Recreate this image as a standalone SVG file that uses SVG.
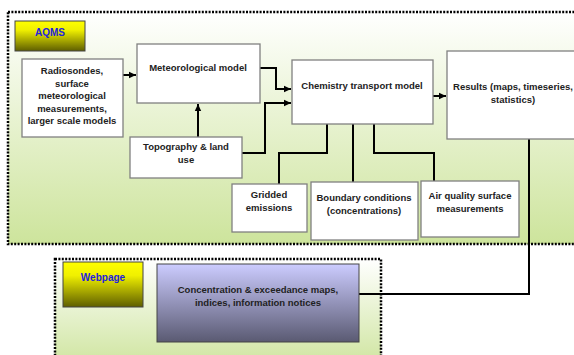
<svg xmlns="http://www.w3.org/2000/svg" width="574" height="355" viewBox="0 0 574 355">
<style>
.cont{stroke:#000;stroke-width:2.5;stroke-dasharray:2 1.4}
.box{fill:#fff;stroke:#808080;stroke-width:1.3}
.t{font-family:"Liberation Sans",Arial,sans-serif;font-weight:bold;font-size:9.5px;fill:#222;text-anchor:middle}
.lbl{font-family:"Liberation Sans",Arial,sans-serif;font-weight:bold;font-size:10px;fill:#2222dd;text-anchor:middle}
.c{fill:none;stroke:#000;stroke-width:2}
</style>
<defs>
<linearGradient id="gGreen" x1="0" y1="0" x2="0" y2="1">
<stop offset="0" stop-color="#ffffff"/>
<stop offset="1" stop-color="#cde49c"/>
</linearGradient>
<linearGradient id="gYellow" x1="0" y1="0" x2="0" y2="1">
<stop offset="0" stop-color="#ffff00"/>
<stop offset="0.3" stop-color="#f0f000"/>
<stop offset="1" stop-color="#5e5e00"/>
</linearGradient>
<linearGradient id="gBlue" x1="0" y1="0" x2="0" y2="1">
<stop offset="0" stop-color="#ccccff"/>
<stop offset="1" stop-color="#5a5a72"/>
</linearGradient>
<marker id="ah" markerWidth="8" markerHeight="8" refX="7" refY="4" orient="auto" markerUnits="userSpaceOnUse">
<path d="M0,0.8 L7,4 L0,7.2 Z" fill="#000"/>
</marker>
</defs>

<g id="aqms-container">
<rect x="8" y="12" width="580" height="232" fill="url(#gGreen)" class="cont"/>
</g>
<g id="webpage-container">
<rect x="55" y="259" width="326" height="110" fill="url(#gGreen)" class="cont"/>
</g>

<g id="connectors">
<line x1="123" y1="75" x2="136" y2="75" class="c" marker-end="url(#ah)"/>
<line x1="198" y1="137" x2="198" y2="104" class="c" marker-end="url(#ah)"/>
<polyline points="260,68 276,68 276,89 291,89" class="c" marker-end="url(#ah)"/>
<polyline points="242,153 265,153 265,103 291,103" class="c" marker-end="url(#ah)"/>
<line x1="433" y1="96" x2="446" y2="96" class="c" marker-end="url(#ah)"/>
<polyline points="327,124 327,153 279,153 279,184" class="c"/>
<line x1="353" y1="124" x2="353" y2="182" class="c"/>
<polyline points="374,124 374,153 434,153 434,181" class="c"/>
<polyline points="529,139 529,294 359,294" class="c"/>
</g>

<g id="aqms-label">
<rect x="15" y="21" width="70" height="30" fill="url(#gYellow)" stroke="#444" stroke-width="1"/>
<text x="50" y="36" class="lbl">AQMS</text>
</g>

<g id="radiosondes">
<rect x="22" y="59" width="101" height="78" class="box"/>
<text class="t"><tspan x="72" y="74">Radiosondes,</tspan><tspan x="72" y="86.5">surface</tspan><tspan x="72" y="99">meteorological</tspan><tspan x="72" y="111.5">measurements,</tspan><tspan x="72" y="124">larger scale models</tspan></text>
</g>

<g id="meteorological-model">
<rect x="137" y="44" width="123" height="59" class="box"/>
<text x="198" y="71" class="t">Meteorological model</text>
</g>

<g id="topography">
<rect x="130" y="137" width="112" height="41" class="box"/>
<text class="t"><tspan x="186" y="150">Topography &amp; land</tspan><tspan x="186" y="163">use</tspan></text>
</g>

<g id="chemistry-transport-model">
<rect x="292" y="60" width="141" height="64" class="box"/>
<text x="362" y="89" class="t">Chemistry transport model</text>
</g>

<g id="results">
<rect x="447" y="51" width="140" height="88" class="box"/>
<text class="t"><tspan x="513" y="89.5">Results (maps, timeseries,</tspan><tspan x="513" y="102.5">statistics)</tspan></text>
</g>

<g id="gridded-emissions">
<rect x="232" y="184" width="75" height="48" class="box"/>
<text class="t"><tspan x="269" y="198">Gridded</tspan><tspan x="269" y="211">emissions</tspan></text>
</g>

<g id="boundary-conditions">
<rect x="311" y="182" width="107" height="58" class="box"/>
<text class="t"><tspan x="364" y="201">Boundary conditions</tspan><tspan x="364" y="214">(concentrations)</tspan></text>
</g>

<g id="air-quality">
<rect x="421" y="181" width="98" height="56" class="box"/>
<text class="t"><tspan x="470" y="199">Air quality surface</tspan><tspan x="470" y="212">measurements</tspan></text>
</g>

<g id="webpage-label">
<rect x="63" y="262" width="80" height="45" fill="url(#gYellow)" stroke="#444" stroke-width="1"/>
<text x="103" y="281" class="lbl">Webpage</text>
</g>

<g id="concentration-maps">
<rect x="157" y="264" width="202" height="78" fill="url(#gBlue)" stroke="#444" stroke-width="1"/>
<text class="t"><tspan x="258" y="293">Concentration &amp; exceedance maps,</tspan><tspan x="258" y="306">indices, information notices</tspan></text>
</g>
</svg>
